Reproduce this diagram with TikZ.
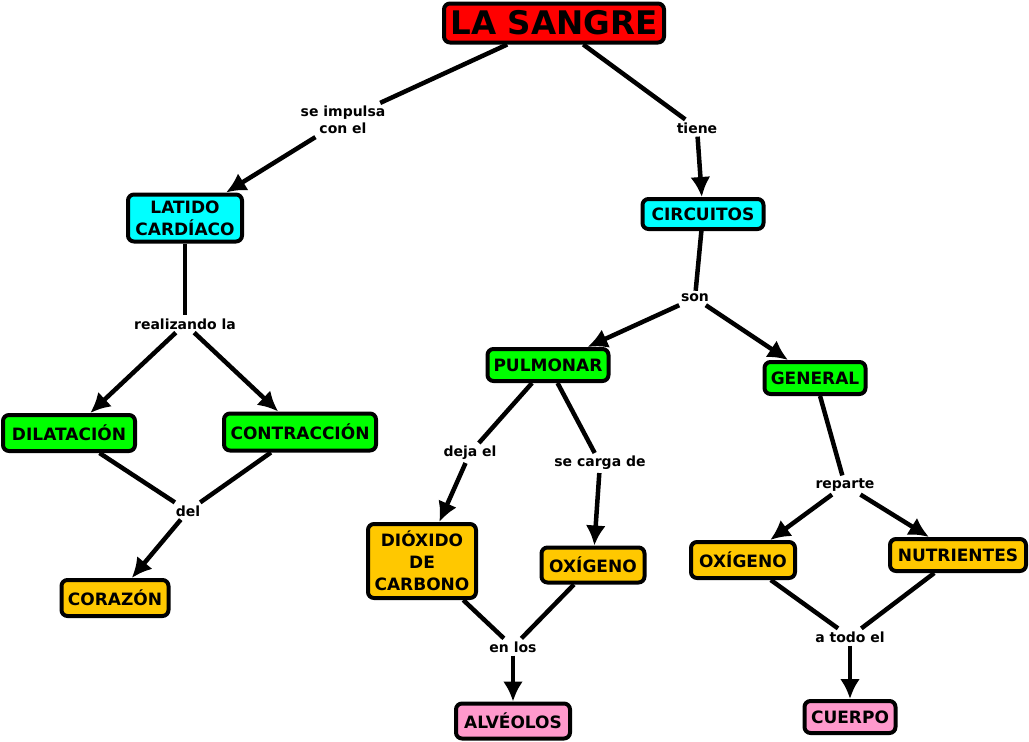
\documentclass[tikz,border=0pt]{standalone}
\usepackage{fontspec}
\setmainfont{DejaVu Sans}
\usetikzlibrary{arrows.meta}
\definecolor{cred}{HTML}{FF0000}
\definecolor{ccyan}{HTML}{00FFFF}
\definecolor{cgreen}{HTML}{00FF00}
\definecolor{cgold}{HTML}{FFC800}
\definecolor{cpink}{HTML}{FF99CC}
\begin{document}
\begin{tikzpicture}[x=1pt,y=-1pt,
  concept/.style={draw=black,line width=4pt,rounded corners=6pt,inner sep=0pt,align=center,
    font=\bfseries\fontsize{17}{22}\selectfont},
  lbl/.style={inner sep=3pt,align=center,font=\bfseries\fontsize{14}{17}\selectfont},
  link/.style={line width=4.5pt},
  arr/.style={line width=4.5pt,-{Latex[length=20pt,width=20pt]}}]
\useasboundingbox (0,0) rectangle (1029,742);
% concepts
\node[concept,fill=cred,minimum width=220pt,minimum height=39pt,font=\bfseries\fontsize{32.5}{36}\selectfont] (sangre) at (554,23) {LA SANGRE};
\node[concept,fill=ccyan,minimum width=114pt,minimum height=47pt] (latido) at (185,218) {LATIDO\\CARDÍACO};
\node[concept,fill=ccyan,minimum width=121pt,minimum height=30pt] (circ) at (703,214) {CIRCUITOS};
\node[concept,fill=cgreen,minimum width=132pt,minimum height=36pt] (dilat) at (69,433) {DILATACIÓN};
\node[concept,fill=cgreen,minimum width=152pt,minimum height=37pt] (contr) at (300,432) {CONTRACCIÓN};
\node[concept,fill=cgold,minimum width=107pt,minimum height=36pt] (corazon) at (115,598) {CORAZÓN};
\node[concept,fill=cgreen,minimum width=121pt,minimum height=32pt] (pulm) at (548,365) {PULMONAR};
\node[concept,fill=cgreen,minimum width=101pt,minimum height=32pt] (gen) at (815,378) {GENERAL};
\node[concept,fill=cgold,minimum width=108pt,minimum height=74pt] (diox) at (422,561) {DIÓXIDO\\DE\\CARBONO};
\node[concept,fill=cgold,minimum width=103pt,minimum height=35pt] (oxa) at (593,565) {OXÍGENO};
\node[concept,fill=cgold,minimum width=104pt,minimum height=36pt] (oxb) at (743,560) {OXÍGENO};
\node[concept,fill=cgold,minimum width=136pt,minimum height=32pt] (nutr) at (958,555) {NUTRIENTES};
\node[concept,fill=cpink,minimum width=114pt,minimum height=35pt] (alv) at (513,721) {ALVÉOLOS};
\node[concept,fill=cpink,minimum width=91pt,minimum height=32pt] (cuerpo) at (850,717) {CUERPO};
% link labels
\node[lbl] (limp) at (343,120) {se impulsa\\con el};
\node[lbl] (ltiene) at (697,128) {tiene};
\node[lbl] (lreal) at (185,324) {realizando la};
\node[lbl] (ldel) at (188,511) {del};
\node[lbl] (lson) at (695,298) {son};
\node[lbl] (ldeja) at (470,453) {deja el};
\node[lbl] (lcarga) at (600,463) {se carga de};
\node[lbl] (lrep) at (845,485) {reparte};
\node[lbl] (lenlos) at (513,647) {en los};
\node[lbl] (ltodo) at (850,637) {a todo el};
% connectors
\draw[link] (sangre) -- (limp);
\draw[arr] (limp) -- (latido);
\draw[link] (sangre) -- (ltiene);
\draw[arr] (ltiene) -- (circ);
\draw[link] (latido) -- (lreal);
\draw[arr] (lreal) -- (dilat);
\draw[arr] (lreal) -- (contr);
\draw[link] (dilat) -- (ldel);
\draw[link] (contr) -- (ldel);
\draw[arr] (ldel) -- (corazon);
\draw[link] (circ) -- (lson);
\draw[arr] (lson) -- (pulm);
\draw[arr] (lson) -- (gen);
\draw[link] (pulm) -- (ldeja);
\draw[arr] (ldeja) -- (diox);
\draw[link] (pulm) -- (lcarga);
\draw[arr] (lcarga) -- (oxa);
\draw[link] (diox) -- (lenlos);
\draw[link] (oxa) -- (lenlos);
\draw[arr] (lenlos) -- (alv);
\draw[link] (gen) -- (lrep);
\draw[arr] (lrep) -- (oxb);
\draw[arr] (lrep) -- (nutr);
\draw[link] (oxb) -- (ltodo);
\draw[link] (nutr) -- (ltodo);
\draw[arr] (ltodo) -- (cuerpo);
\end{tikzpicture}
\end{document}
